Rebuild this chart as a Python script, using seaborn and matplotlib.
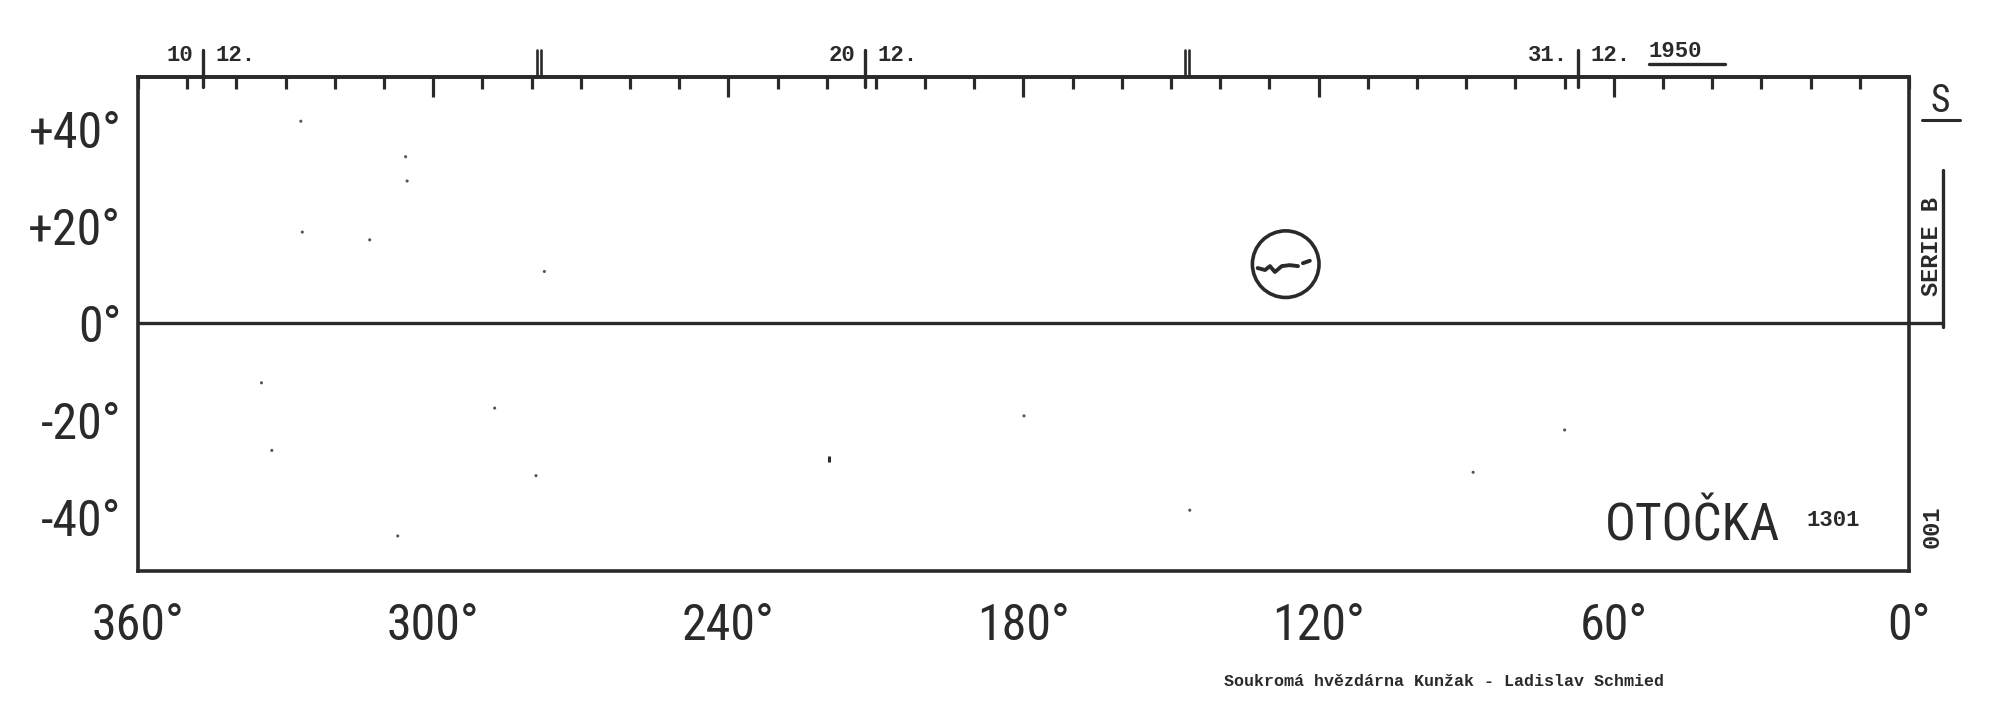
import numpy as np
import pandas as pd
import matplotlib
matplotlib.use("Agg")
import matplotlib.pyplot as plt
import seaborn as sns
from matplotlib.ticker import FixedLocator, MultipleLocator
from matplotlib.lines import Line2D
import matplotlib.transforms as mtransforms

# ---------------- data ----------------
LON_TICKS = [360, 300, 240, 180, 120, 60, 0]
LON_LABELS = ["360°", "300°", "240°", "180°", "120°", "60°", "0°"]
LAT_TICKS = [40, 20, 0, -20, -40]
LAT_LABELS = ["+40°", "+20°", "0°", "-20°", "-40°"]
LAT_MINOR = [50, 30, 10, -10, -30, -50]

# central-meridian day marks along the top edge
DAY_MARK_LON = [346.8, 212.2, 67.3]
DAY_MARK_DAY = ["10", "20", "31."]
DAY_MARK_MONTH = ["12.", "12.", "12."]
HALF_MARK_LON = [278.5, 146.8]
YEAR = "1950"

# sketched sunspot group and its ring
GROUP_LON = [132.4, 130.9, 129.9, 128.9, 127.5, 125.9, 124.2]
GROUP_LAT = [11.3, 10.9, 11.7, 10.5, 11.7, 11.9, 11.7]
GROUP_TAIL_LON = [123.2, 121.8]
GROUP_TAIL_LAT = [12.3, 12.8]
RING_LON = [126.7]
RING_LAT = [12.1]

# small specks on the sheet
SPECK_LON = [305.6, 305.3, 326.6, 312.9, 277.4, 334.9, 287.5, 332.8, 279.1,
             307.2, 179.9, 146.2, 88.6, 70.0, 326.9]
SPECK_LAT = [34.2, 29.2, 18.7, 17.1, 10.6, -12.3, -17.5, -26.2, -31.4,
             -43.8, -19.1, -38.5, -30.7, -22.0, 41.5]
SPOT_LON = [219.6]
SPOT_LAT = [-28.0]

ROTATION_NO = "1301"
SHEET_NO = "001"
SERIES = "SERIE B"
HEMI = "S"
TITLE = "OTOČKA"
CREDIT = "Soukromá hvězdárna Kunžak - Ladislav Schmied"

# ---------------- style ----------------
sns.set_style("white")
plt.rcParams["font.family"] = ["Roboto Condensed", "Roboto", "DejaVu Sans"]
INK = "#2a2a2a"
MONO = ["Liberation Mono", "DejaVu Sans Mono"]

fig = plt.figure(figsize=(20, 7.14), dpi=100)
ax = fig.add_axes([0.069, 0.2003, 0.8855, 0.6919])

ax.set_xlim(360, 0)
ax.set_ylim(-51.0, 50.6)

for side in ["left", "right", "top", "bottom"]:
    ax.spines[side].set_color(INK)
    ax.spines[side].set_linewidth(2.6)

# bottom axis: ticks outward
ax.xaxis.set_major_locator(FixedLocator(LON_TICKS))
ax.set_xticklabels(LON_LABELS)
ax.xaxis.set_minor_locator(MultipleLocator(10))
ax.tick_params(axis="x", which="major", direction="out", length=20, width=2.3,
               color=INK, labelsize=36, labelcolor=INK, pad=2, top=False)
ax.tick_params(axis="x", which="minor", direction="out", length=8.5, width=2.3,
               color=INK, top=False)

# left axis
ax.yaxis.set_major_locator(FixedLocator(LAT_TICKS))
ax.set_yticklabels(LAT_LABELS)
ax.yaxis.set_minor_locator(FixedLocator(LAT_MINOR))
ax.tick_params(axis="y", which="major", direction="out", length=12, width=2.6,
               color=INK, labelsize=36, labelcolor=INK, pad=0, right=False)
ax.tick_params(axis="y", which="minor", direction="out", length=18, width=2.6,
               color=INK, right=False)

# top axis: ticks inward
sec = ax.secondary_xaxis("top")
sec.xaxis.set_major_locator(FixedLocator(LON_TICKS[1:-1]))
sec.xaxis.set_minor_locator(MultipleLocator(10))
sec.tick_params(axis="x", which="major", direction="in", length=14.5, width=2.3,
                color=INK, labeltop=False)
sec.tick_params(axis="x", which="minor", direction="in", length=8.5, width=2.3,
                color=INK)
sec.spines["top"].set_linewidth(2.6)
sec.spines["top"].set_color(INK)

# equator
ax.axhline(0, xmin=0, xmax=1.019, color=INK, lw=2.4, clip_on=False)

# sunspot group
grp = pd.DataFrame({"lon": GROUP_LON, "lat": GROUP_LAT})
tail = pd.DataFrame({"lon": GROUP_TAIL_LON, "lat": GROUP_TAIL_LAT})
sns.lineplot(data=grp, x="lon", y="lat", sort=False, color=INK, lw=2.8, ax=ax)
sns.lineplot(data=tail, x="lon", y="lat", sort=False, color=INK, lw=2.8, ax=ax)
ring = pd.DataFrame({"lon": RING_LON, "lat": RING_LAT})
sns.scatterplot(data=ring, x="lon", y="lat", s=2300, marker="o",
                facecolors="none", edgecolor=INK, linewidth=2.6, ax=ax)

specks = pd.DataFrame({"lon": SPECK_LON, "lat": SPECK_LAT})
sns.scatterplot(data=specks, x="lon", y="lat", s=5, color="#555555",
                edgecolor="none", ax=ax)
spot = pd.DataFrame({"lon": SPOT_LON, "lat": SPOT_LAT})
sns.scatterplot(data=spot, x="lon", y="lat", s=22, marker="|", color=INK,
                linewidth=2.2, ax=ax)

ax.set_xlabel("")
ax.set_ylabel("")

# day marks
bt = mtransforms.blended_transform_factory(ax.transData, ax.transAxes)
for lon, d, m in zip(DAY_MARK_LON, DAY_MARK_DAY, DAY_MARK_MONTH):
    ax.plot([lon, lon], [0.98, 1.055], transform=bt, color=INK, lw=2.4,
            clip_on=False)
    ax.text(lon + 2.0, 1.022, d, transform=bt, ha="right", va="bottom",
            family=MONO, weight="bold", fontsize=16, color=INK)
    ax.text(lon - 2.5, 1.022, m, transform=bt, ha="left", va="bottom",
            family=MONO, weight="bold", fontsize=16, color=INK)
for lon in HALF_MARK_LON:
    for off in (0.45, -0.45):
        ax.plot([lon + off, lon + off], [1.003, 1.055], transform=bt,
                color=INK, lw=1.9, clip_on=False)

yr_lon = DAY_MARK_LON[-1] - 14.4
ax.text(yr_lon, 1.03, YEAR, transform=bt, ha="left", va="bottom",
        family=MONO, weight="bold", fontsize=16, color=INK)
ax.plot([yr_lon, yr_lon - 15.5], [1.027, 1.027], transform=bt, color=INK,
        lw=2.4, clip_on=False)

# labels inside
ax.text(0.878, 0.091, TITLE, transform=ax.transAxes, ha="center",
        va="center", fontsize=37, color=INK)
ax.text(0.9424, 0.103, ROTATION_NO, transform=ax.transAxes, ha="left",
        va="center", family=MONO, weight="bold", fontsize=16, color=INK)

# right margin texts
fig.text(0.970, 0.858, HEMI, ha="center", va="center", fontsize=27, color=INK)
fig.add_artist(Line2D([0.961, 0.980], [0.832, 0.832], color=INK, lw=2.2))
fig.text(0.966, 0.654, SERIES, rotation=90, ha="center", va="center",
         family=MONO, weight="bold", fontsize=17, color=INK)
fig.add_artist(Line2D([0.9715, 0.9715], [0.542, 0.762], color=INK, lw=2.4))
fig.text(0.966, 0.262, SHEET_NO, rotation=90, ha="center", va="center",
         family=MONO, weight="bold", fontsize=17, color=INK)

# credit
fig.text(0.722, 0.045, CREDIT, ha="center", va="center", family=MONO,
         weight="bold", fontsize=12, color=INK)

fig.savefig("out.png", dpi=100, facecolor="white")
